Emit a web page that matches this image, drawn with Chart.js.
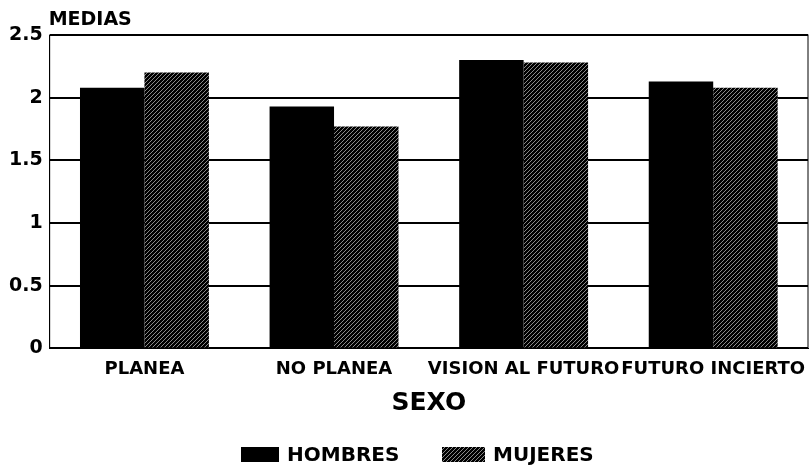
<!DOCTYPE html>
<html>
<head>
<meta charset="utf-8">
<script src="https://cdn.jsdelivr.net/npm/chart.js@4"></script>
<style>
  html, body { margin: 0; padding: 0; background: #fff; }
  #wrap { width: 810px; height: 472px; position: relative; }
</style>
</head>
<body>
<div id="wrap"><canvas id="chart"></canvas></div>
<script>
const categories = ["PLANEA", "NO PLANEA", "VISION AL FUTURO", "FUTURO INCIERTO"];
const hombres = [2.08, 1.93, 2.30, 2.13];
const mujeres = [2.20, 1.77, 2.28, 2.08];
const yTicks = [0, 0.5, 1, 1.5, 2, 2.5];

// hatch fill for MUJERES
function makeHatch() {
    const c = document.createElement("canvas");
    c.width = 4; c.height = 4;
    const g = c.getContext("2d");
    g.fillStyle = "#000";
    g.fillRect(0, 0, 4, 4);
    g.strokeStyle = "#8a8a8a";
    g.lineWidth = 1;
    g.beginPath();
    g.moveTo(0, 4); g.lineTo(4, 0);
    g.moveTo(-2, 2); g.lineTo(2, -2);
    g.moveTo(2, 6); g.lineTo(6, 2);
    g.stroke();
    return g.createPattern(c, "repeat");
}
const hatch = makeHatch();

const FAMILY = "'DejaVu Sans', Verdana, sans-serif";
const font = { family: FAMILY, weight: "bold" };

// y-axis caption and the legend under the chart
const extras = {
    id: "extras",
    afterDraw(chart) {
        const a = chart.chartArea, g = chart.ctx;
        g.save();
        // frame
        g.strokeStyle = "#000";
        g.lineWidth = 1;
        g.strokeRect(a.left, a.top, a.right - a.left, a.bottom - a.top);
        // caption
        g.fillStyle = "#000";
        g.font = "bold 19px " + FAMILY;
        g.textBaseline = "alphabetic";
        g.textAlign = "left";
        g.fillText("MEDIAS", a.left - 1, 25);
        // legend
        const boxW = [38, 43];
        const startX = [241, 442];
        const y = 447, boxH = 15;
        g.font = "bold 20px " + FAMILY;
        g.textBaseline = "middle";
        chart.data.datasets.forEach((ds, i) => {
            g.fillStyle = ds.backgroundColor;
            g.fillRect(startX[i], y, boxW[i], boxH);
            g.fillStyle = "#000";
            g.fillText(ds.label, startX[i] + boxW[i] + 8, y + boxH / 2 + 1);
        });
        g.restore();
    }
};

new Chart(document.getElementById("chart"), {
    type: "bar",
    data: {
        labels: categories,
        datasets: [
            { label: "HOMBRES", data: hombres, backgroundColor: "#000", borderWidth: 0 },
            { label: "MUJERES", data: mujeres, backgroundColor: hatch, borderWidth: 0 }
        ]
    },
    options: {
        responsive: true,
        maintainAspectRatio: false,
        animation: false,
        datasets: { bar: { categoryPercentage: 0.68, barPercentage: 1 } },
        layout: { padding: { left: 2, right: 2, top: 35, bottom: 54 } },
        scales: {
            x: {
                grid: { display: false },
                border: { color: "#000", width: 1 },
                afterFit: s => { s.paddingLeft = 0; s.paddingRight = 0; },
                ticks: {
                    color: "#000", autoSkip: false, maxRotation: 0, padding: 2,
                    font: { ...font, size: 18 }
                },
                title: {
                    display: true, text: "SEXO", color: "#000",
                    font: { ...font, size: 25 }, padding: { top: 6, bottom: 0 }
                }
            },
            y: {
                min: 0, max: 2.5,
                afterBuildTicks: axis => { axis.ticks = yTicks.map(v => ({ value: v })); },
                grid: { color: "#000", lineWidth: 2, drawTicks: false },
                border: { color: "#000", width: 1 },
                ticks: {
                    color: "#000", padding: 7,
                    font: { ...font, size: 19 },
                    callback: v => String(v)
                }
            }
        },
        plugins: {
            legend: { display: false },
            title: { display: false },
            tooltip: { enabled: false }
        }
    },
    plugins: [extras]
});
</script>
</body>
</html>
